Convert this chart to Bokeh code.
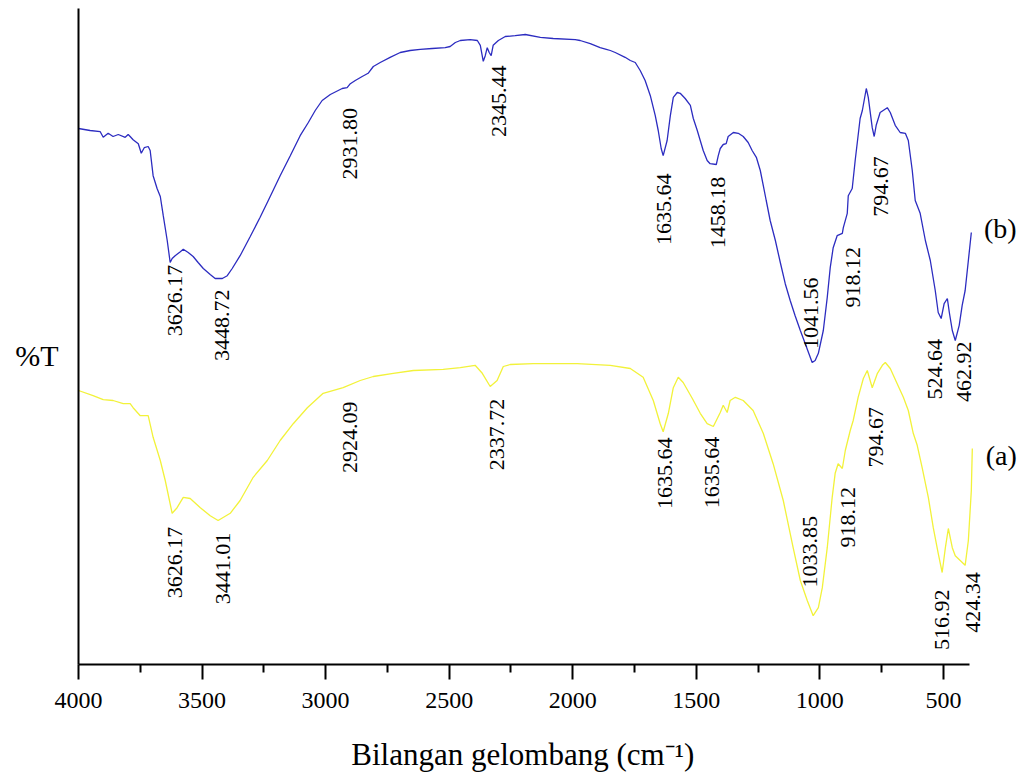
import math
from bokeh.plotting import figure
from bokeh.models import Range1d, FixedTicker, Label, ColumnDataSource, LinearAxis
from bokeh.core.properties import value
from bokeh.embed import file_html
from bokeh.resources import INLINE

# ---- spectrum (b): wavenumber (cm-1) and transmittance (arbitrary %T units)
wn_b = [4000, 3953, 3912, 3900, 3880, 3860, 3839, 3811, 3799, 3791, 3779, 3758, 3746, 3734,
        3718, 3710, 3698, 3682, 3669, 3657, 3641, 3629, 3621, 3609, 3588, 3576, 3556, 3536,
        3516, 3495, 3467, 3447, 3418, 3398, 3378, 3346, 3305, 3265, 3232, 3184, 3143, 3103,
        3070, 3042, 3014, 2981, 2933, 2913, 2900, 2880, 2852, 2828, 2807, 2779, 2739, 2698,
        2658, 2617, 2569, 2516, 2496, 2475, 2455, 2415, 2386, 2374, 2362, 2354, 2346, 2338,
        2330, 2322, 2301, 2273, 2233, 2192, 2131, 2079, 1990, 1970, 1929, 1889, 1864, 1848,
        1828, 1788, 1767, 1747, 1727, 1707, 1686, 1666, 1654, 1642, 1634, 1618, 1605, 1593,
        1577, 1565, 1545, 1524, 1512, 1496, 1484, 1472, 1456, 1444, 1419, 1411, 1403, 1391,
        1379, 1371, 1350, 1330, 1310, 1290, 1274, 1257, 1241, 1229, 1217, 1201, 1180, 1160,
        1140, 1120, 1100, 1079, 1059, 1043, 1031, 1019, 1006, 986, 970, 958, 946, 930, 909,
        905, 889, 885, 869, 857, 837, 828, 812, 804, 788, 780, 772, 756, 727, 715, 695, 675,
        654, 642, 626, 614, 594, 573, 553, 533, 521, 509, 497, 484, 476, 464, 452, 436, 424,
        412, 399, 387]
t_b = [67.0, 66.75, 66.6, 65.9, 66.4, 66.0, 66.25, 65.9, 66.25, 66.0, 65.6, 65.1, 63.9, 64.6,
       64.75, 64.25, 61.1, 59.5, 58.5, 56.1, 53.0, 50.25, 50.75, 51.1, 51.6, 51.9, 51.5, 51.0,
       50.25, 49.5, 48.75, 48.25, 48.25, 48.6, 49.5, 51.1, 53.5, 55.9, 58.0, 61.1, 63.6, 66.1,
       67.75, 69.25, 70.5, 71.25, 72.0, 72.1, 72.6, 73.0, 73.5, 73.9, 74.75, 75.25, 75.9, 76.5,
       76.75, 76.9, 77.0, 77.1, 77.25, 77.75, 78.0, 78.1, 78.0, 77.4, 75.4, 76.1, 77.1, 76.5,
       76.1, 77.4, 78.0, 78.5, 78.6, 78.75, 78.4, 78.25, 78.1, 78.0, 77.6, 77.1, 76.9, 76.75,
       76.5, 75.9, 75.5, 75.25, 74.25, 73.0, 71.1, 68.6, 66.75, 64.5, 63.6, 65.5, 68.6, 70.9,
       71.5, 71.4, 70.75, 69.9, 68.25, 66.75, 65.5, 64.25, 63.0, 62.6, 62.5, 63.6, 64.5, 65.0,
       65.1, 66.0, 66.5, 66.4, 66.0, 65.25, 64.25, 63.4, 61.75, 59.9, 58.0, 55.5, 53.0, 50.25,
       47.6, 45.5, 43.6, 41.75, 40.1, 38.75, 37.75, 38.0, 38.9, 41.75, 45.9, 49.6, 52.1, 53.6, 53.9,
       54.6, 56.4, 58.6, 59.5, 63.0, 68.25, 69.25, 72.0, 70.9, 67.1, 66.0, 67.4, 69.0, 69.6, 69.0,
       67.4, 66.5, 66.4, 65.5, 61.75, 58.0, 56.4, 53.0, 50.5, 46.75, 44.0, 43.25, 45.1, 45.75,
       44.0, 41.75, 40.5, 42.4, 44.9, 46.75, 50.5, 54.0]

# ---- spectrum (a)
wn_a = [4000, 3941, 3900, 3860, 3819, 3791, 3779, 3750, 3718, 3698, 3669, 3649, 3621, 3601,
        3576, 3548, 3507, 3467, 3435, 3386, 3346, 3293, 3236, 3184, 3131, 3074, 3010, 2929,
        2860, 2807, 2726, 2645, 2524, 2455, 2395, 2366, 2334, 2306, 2281, 2253, 2160, 1982,
        1848, 1767, 1715, 1674, 1646, 1634, 1613, 1593, 1573, 1553, 1516, 1484, 1456, 1431,
        1403, 1391, 1375, 1363, 1342, 1310, 1270, 1229, 1189, 1148, 1108, 1079, 1051, 1027,
        1006, 990, 970, 950, 938, 926, 909, 897, 877, 865, 845, 824, 808, 788, 767, 747, 735,
        715, 687, 662, 642, 622, 606, 586, 561, 541, 521, 505, 492, 480, 464, 452, 432, 412,
        399, 387, 383]
t_a = [34.25, 33.6, 33.1, 33.0, 32.6, 32.6, 32.1, 31.1, 31.1, 28.4, 25.5, 23.0, 18.9, 19.6,
       20.9, 20.75, 19.6, 18.6, 18.0, 18.9, 20.5, 23.4, 25.5, 28.0, 30.1, 32.1, 33.9, 34.6,
       35.5, 36.0, 36.4, 36.75, 36.9, 37.1, 37.4, 36.4, 34.75, 35.5, 37.25, 37.5, 37.6, 37.6,
       37.4, 37.0, 35.9, 33.0, 30.1, 29.1, 31.4, 34.6, 35.9, 35.25, 33.25, 31.4, 30.1, 29.75,
       31.5, 32.4, 31.5, 33.0, 33.4, 33.0, 31.75, 28.9, 25.1, 20.5, 14.6, 10.5, 8.0, 6.1,
       7.1, 9.6, 14.6, 20.9, 23.9, 25.1, 24.5, 26.75, 29.25, 30.5, 33.4, 35.75, 36.75, 34.6,
       36.4, 37.4, 37.75, 37.0, 35.1, 33.4, 31.75, 28.9, 27.4, 24.6, 20.9, 17.1, 13.9, 11.5,
       14.6, 17.0, 14.6, 13.6, 13.0, 12.4, 15.5, 21.75, 27.0]

# ---- peak annotations
peak_b_text = ["3626.17", "3448.72", "2931.80", "2345.44", "1635.64", "1458.18",
               "1041.56", "918.12", "794.67", "524.64", "462.92"]
peak_b_x = [3609, 3418, 2900, 2297, 1630, 1411, 1035, 865, 751, 533, 416]
peak_b_y = [45.5, 42.4, 65.1, 70.4, 56.9, 56.5, 43.9, 48.4, 59.75, 36.9, 36.6]

peak_a_text = ["3626.17", "3441.01", "2924.09", "2337.72", "1635.64", "1635.64",
               "1033.85", "918.12", "794.67", "516.92", "424.34"]
peak_a_x = [3609, 3414, 2900, 2306, 1626, 1435, 1039, 885, 772, 505, 379]
peak_a_y = [12.75, 12.0, 28.4, 28.75, 23.9, 24.0, 14.1, 18.4, 28.4, 5.6, 7.75]

major_ticks = [4000, 3500, 3000, 2500, 2000, 1500, 1000, 500]
minor_ticks = [3750, 3250, 2750, 2250, 1750, 1250, 750]

x_title = "Bilangan gelombang (cm\u207b\u00b9)"
x_title_at = 2202          # wavenumber under which the title is centred
y_title = "%T"
y_title_at = 38.6
series_names = ["(b)", "(a)"]
series_name_x = [270, 266]
series_name_y = [54.5, 26.1]

BLUE = "#2c2cc0"
YELLOW = "#f2f23a"
FONT = "Liberation Serif, serif"

p = figure(frame_width=942, frame_height=656,
           x_range=Range1d(4000, 188), y_range=Range1d(0, 82),
           output_backend="svg", toolbar_location=None,
           min_border_left=78, min_border_right=2, min_border_top=8, min_border_bottom=112)
p.outline_line_color = None
p.xgrid.visible = False
p.ygrid.visible = False
p.background_fill_color = "white"
p.border_fill_color = "white"

p.line(wn_b, t_b, line_color=BLUE, line_width=1.3)
p.line(wn_a, t_a, line_color=YELLOW, line_width=1.3)

src_b = ColumnDataSource(dict(x=peak_b_x, y=peak_b_y, t=peak_b_text))
src_a = ColumnDataSource(dict(x=peak_a_x, y=peak_a_y, t=peak_a_text))
for src in (src_b, src_a):
    p.text(x="x", y="y", text="t", source=src, angle=math.pi / 2,
           text_align="center", text_baseline="middle",
           text_font=value(FONT), text_font_size="22px", text_color="black")

# x axis
xa = p.xaxis[0]
xa.ticker = FixedTicker(ticks=major_ticks, minor_ticks=minor_ticks)
xa.bounds = (394, 4000)
xa.axis_line_width = 2
xa.axis_line_color = "black"
xa.major_tick_line_width = 2
xa.minor_tick_line_width = 2
xa.major_tick_in = 0
xa.major_tick_out = 15
xa.minor_tick_in = 0
xa.minor_tick_out = 8
xa.major_label_text_font = FONT
xa.major_label_text_font_size = "24px"
xa.major_label_text_color = "black"
xa.major_label_standoff = 13

# x title: a second, bare axis below whose single tick label is the title
xt = LinearAxis(ticker=FixedTicker(ticks=[x_title_at], minor_ticks=[]),
                major_label_overrides={x_title_at: x_title},
                axis_line_color=None, major_tick_line_color=None, minor_tick_line_color=None,
                major_tick_in=0, major_tick_out=0,
                major_label_text_font=FONT, major_label_text_font_size="31px",
                major_label_text_color="black", major_label_standoff=26)
p.add_layout(xt, "below")

# y axis: bare line
ya = p.yaxis[0]
ya.ticker = FixedTicker(ticks=[], minor_ticks=[])
ya.axis_line_width = 2
ya.axis_line_color = "black"
ya.major_tick_line_color = None
ya.minor_tick_line_color = None
ya.major_label_text_font_size = "0px"

yt = LinearAxis(ticker=FixedTicker(ticks=[y_title_at], minor_ticks=[]),
                major_label_overrides={y_title_at: y_title},
                axis_line_color=None, major_tick_line_color=None, minor_tick_line_color=None,
                major_tick_in=0, major_tick_out=0,
                major_label_text_font=FONT, major_label_text_font_size="30px",
                major_label_text_color="black", major_label_standoff=20)
p.add_layout(yt, "left")

for name, nx, ny in zip(series_names, series_name_x, series_name_y):
    p.add_layout(Label(x=nx, y=ny, text=name, text_font=FONT, text_font_size="28px",
                       text_align="center", text_baseline="middle", text_color="black"))

open("out.html", "w").write(file_html(p, INLINE))
